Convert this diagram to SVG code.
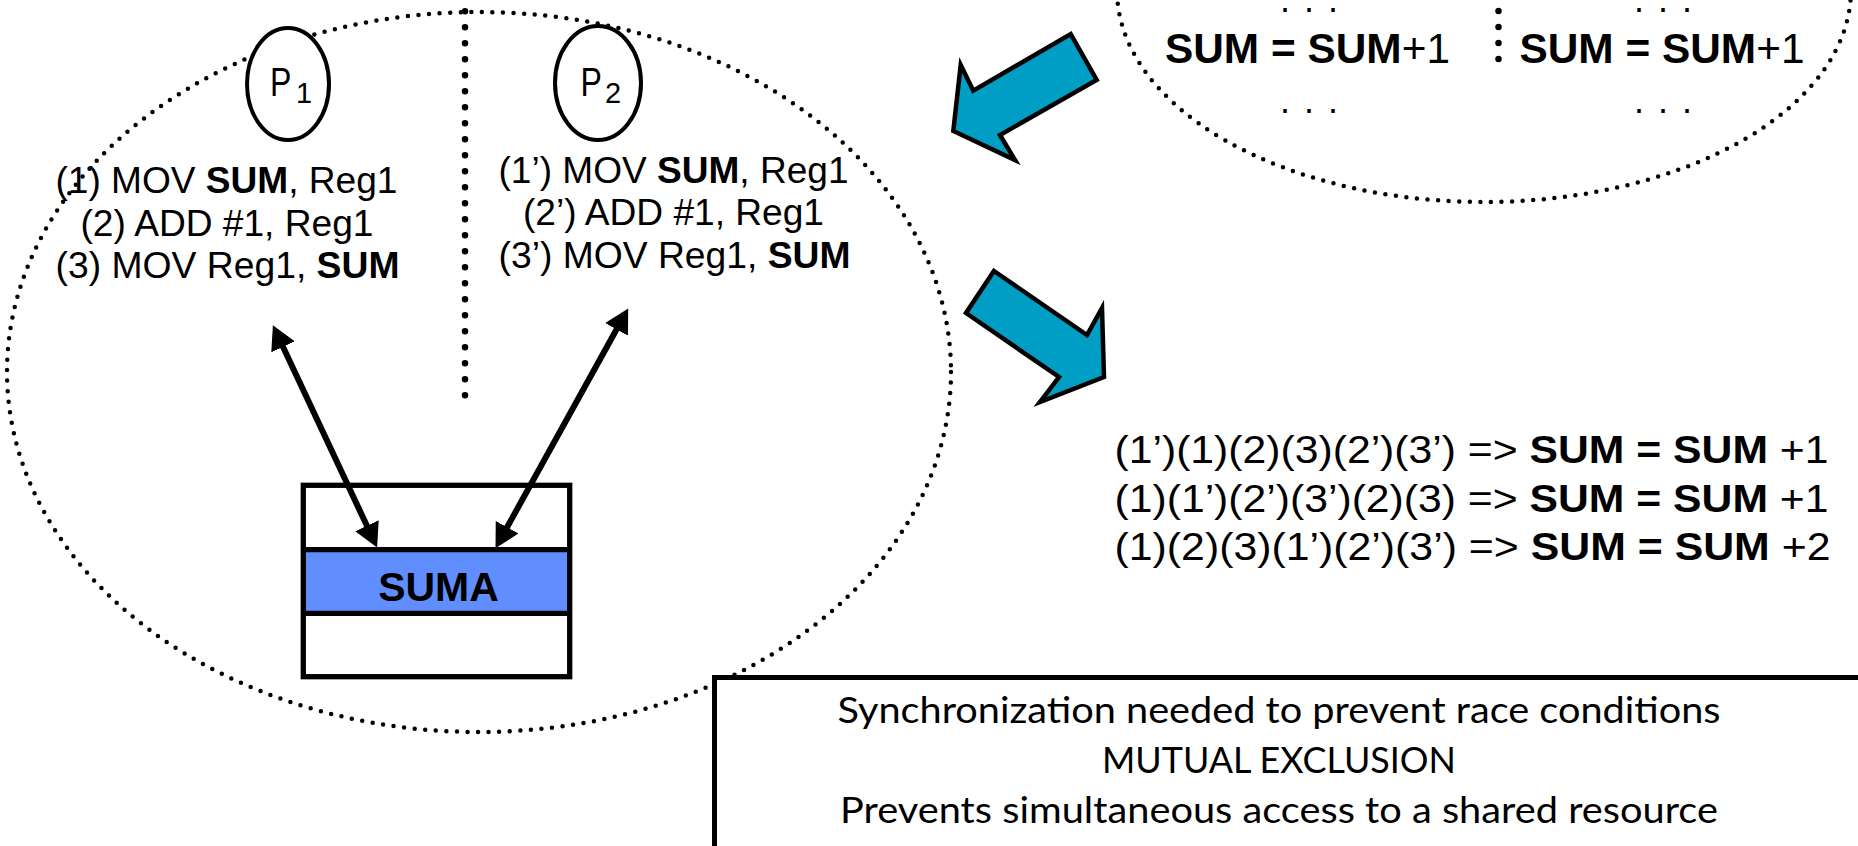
<svg xmlns="http://www.w3.org/2000/svg" width="1858" height="846" viewBox="0 0 1858 846">
<style>
  .t { font-family: "Liberation Sans", Arial, sans-serif; fill: #000; }
  .b { font-weight: bold; }
  .cal { font-family: Lato, "Open Sans", sans-serif; fill: #000; }
  .dotE { fill: none; stroke: #000; stroke-width: 4.5; stroke-linecap: round; stroke-dasharray: 0 10.6; }
  .dotV { fill: none; stroke: #000; stroke-width: 6.5; stroke-linecap: round; stroke-dasharray: 0 16; }
  .proc { fill: #fff; stroke: #000; stroke-width: 4; }
  .blk { fill: #009DC4; stroke: #000; stroke-width: 4.5; stroke-linejoin: miter; }
  .conn { stroke: #000; stroke-width: 6; fill: none; }
</style>
<defs>
  <marker id="ah" markerUnits="userSpaceOnUse" markerWidth="26" markerHeight="26" refX="11" refY="13" orient="auto-start-reverse" viewBox="0 0 26 26">
    <path d="M0,0 L24,13 L0,26 z" fill="#000"/>
  </marker>
</defs>
<rect x="0" y="0" width="1858" height="846" fill="#fff"/>

<!-- Big dotted ellipse and divider -->
<g id="system">
  <ellipse class="dotE" cx="479" cy="372" rx="472" ry="360"/>
  <line class="dotV" x1="465" y1="11.3" x2="465" y2="411.3"/>
</g>

<!-- Process P1 -->
<g id="p1">
  <ellipse class="proc" cx="288" cy="84" rx="41" ry="56"/>
  <text class="t" transform="translate(270,96) scale(0.8,1)" font-size="40">P</text>
  <text class="t" x="296" y="103" font-size="29">1</text>
</g>
<g id="p1-code">
  <text class="t" x="55.5" y="193" font-size="36" textLength="342" lengthAdjust="spacingAndGlyphs">(1) MOV <tspan class="b">SUM</tspan>, Reg1</text>
  <text class="t" x="80.5" y="236" font-size="36" textLength="293" lengthAdjust="spacingAndGlyphs">(2) ADD #1, Reg1</text>
  <text class="t" x="55.5" y="278" font-size="36" textLength="344" lengthAdjust="spacingAndGlyphs">(3) MOV Reg1, <tspan class="b">SUM</tspan></text>
</g>

<!-- Process P2 -->
<g id="p2">
  <ellipse class="proc" cx="598" cy="83" rx="43" ry="57"/>
  <text class="t" transform="translate(580.5,96) scale(0.8,1)" font-size="40">P</text>
  <text class="t" x="605" y="103" font-size="29">2</text>
</g>
<g id="p2-code">
  <text class="t" x="498.5" y="183" font-size="36" textLength="350" lengthAdjust="spacingAndGlyphs">(1’) MOV <tspan class="b">SUM</tspan>, Reg1</text>
  <text class="t" x="523" y="225" font-size="36" textLength="301" lengthAdjust="spacingAndGlyphs">(2’) ADD #1, Reg1</text>
  <text class="t" x="498.5" y="268" font-size="36" textLength="352" lengthAdjust="spacingAndGlyphs">(3’) MOV Reg1, <tspan class="b">SUM</tspan></text>
</g>

<!-- Shared memory -->
<g id="memory">
  <rect x="303.3" y="485.3" width="266.4" height="191.4" fill="#fff" stroke="none"/>
  <rect x="303.3" y="549.7" width="266.4" height="63.6" fill="#618EFF" stroke="none"/>
  <line x1="303.3" y1="549.7" x2="569.7" y2="549.7" stroke="#000" stroke-width="5.3"/>
  <line x1="303.3" y1="613.3" x2="569.7" y2="613.3" stroke="#000" stroke-width="5.3"/>
  <rect x="303.3" y="485.3" width="266.4" height="191.4" fill="none" stroke="#000" stroke-width="5.3"/>
  <text class="t b" x="438.5" y="601" font-size="41" text-anchor="middle">SUMA</text>
</g>

<!-- Connectors -->
<g id="connectors">
  <line class="conn" x1="278.4" y1="336.9" x2="371.6" y2="535.8" marker-start="url(#ah)" marker-end="url(#ah)"/>
  <line class="conn" x1="621.9" y1="319.8" x2="501.8" y2="536.8" marker-start="url(#ah)" marker-end="url(#ah)"/>
</g>

<!-- Top-right source code ellipse -->
<g id="source">
  <ellipse class="dotE" cx="1484" cy="-10" rx="367" ry="212"/>
  <line class="dotV" x1="1498.5" y1="11" x2="1498.5" y2="75"/>
  <text class="t" x="1280" y="11.5" font-size="36" textLength="58" lengthAdjust="spacing">. . .</text>
  <text class="t" x="1634" y="11.5" font-size="36" textLength="58" lengthAdjust="spacing">. . .</text>
  <text class="t" x="1165" y="63" font-size="43" textLength="285" lengthAdjust="spacingAndGlyphs"><tspan class="b">SUM</tspan><tspan class="b"> = </tspan><tspan class="b">SUM</tspan>+1</text>
  <text class="t" x="1519.5" y="63" font-size="43" textLength="285" lengthAdjust="spacingAndGlyphs"><tspan class="b">SUM</tspan><tspan class="b"> = </tspan><tspan class="b">SUM</tspan>+1</text>
  <text class="t" x="1280" y="112.7" font-size="36" textLength="58" lengthAdjust="spacing">. . .</text>
  <text class="t" x="1634" y="112.7" font-size="36" textLength="58" lengthAdjust="spacing">. . .</text>
</g>

<!-- Block arrows -->
<g id="arrow-in">
  <polygon class="blk" points="1070.7,34 1096.7,80 1000,135 1015,160 953.3,131 960.7,65 973.3,90.7"/>
</g>
<g id="arrow-out">
  <polygon class="blk" points="994,271 1087,335 1102,308 1104,377 1040,402 1059,377 966,313"/>
</g>

<!-- Interleavings -->
<g id="interleavings">
  <text class="t" x="1114.5" y="463" font-size="39" textLength="714" lengthAdjust="spacingAndGlyphs">(1’)(1)(2)(3)(2’)(3’) =&gt; <tspan class="b">SUM</tspan><tspan class="b"> = </tspan><tspan class="b">SUM</tspan> +1</text>
  <text class="t" x="1114.5" y="511.5" font-size="39" textLength="714" lengthAdjust="spacingAndGlyphs">(1)(1’)(2’)(3’)(2)(3) =&gt; <tspan class="b">SUM</tspan><tspan class="b"> = </tspan><tspan class="b">SUM</tspan> +1</text>
  <text class="t" x="1114.5" y="560" font-size="39" textLength="716" lengthAdjust="spacingAndGlyphs">(1)(2)(3)(1’)(2’)(3’) =&gt; <tspan class="b">SUM</tspan><tspan class="b"> = </tspan><tspan class="b">SUM</tspan> +2</text>
</g>

<!-- Conclusion box -->
<g id="conclusion">
  <rect x="714.5" y="677.5" width="1327.5" height="200" fill="#fff" stroke="#000" stroke-width="5"/>
  <text class="cal" x="1279" y="723" font-size="37" text-anchor="middle" textLength="883" lengthAdjust="spacingAndGlyphs">Synchronization needed to prevent race conditions</text>
  <text class="cal" x="1279" y="773" font-size="37" text-anchor="middle" textLength="354" lengthAdjust="spacingAndGlyphs">MUTUAL EXCLUSION</text>
  <text class="cal" x="1279" y="823" font-size="37" text-anchor="middle" textLength="878" lengthAdjust="spacingAndGlyphs">Prevents simultaneous access to a shared resource</text>
</g>
</svg>
